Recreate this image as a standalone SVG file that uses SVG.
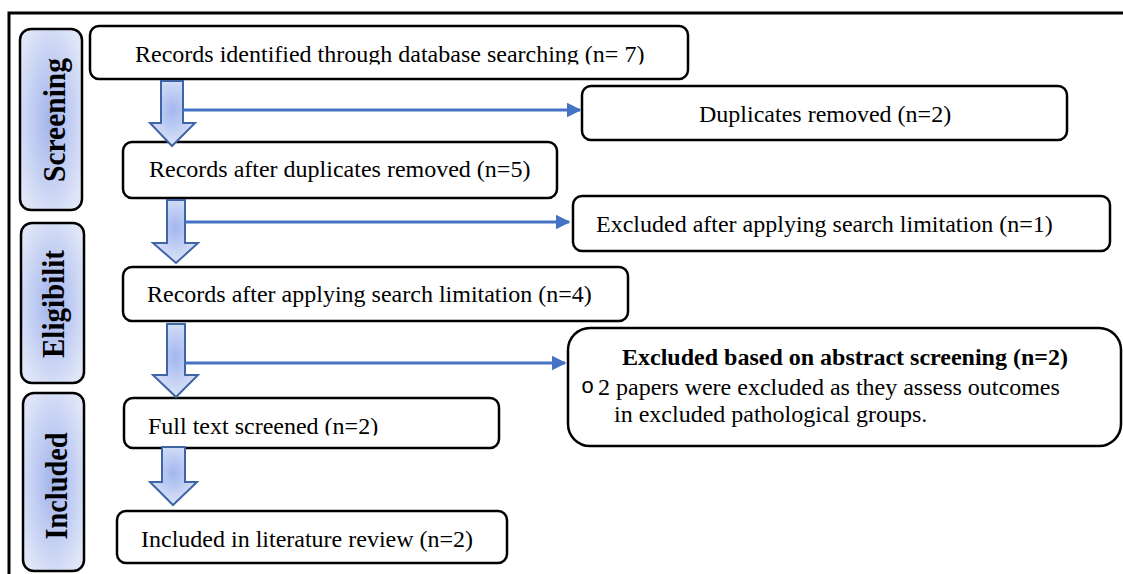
<svg xmlns="http://www.w3.org/2000/svg" width="1123" height="574" viewBox="0 0 1123 574">
  <style>
    .box { fill: #ffffff; stroke: #000000; stroke-width: 2.5; }
    .phase { fill: url(#phaseFill); stroke: #000000; stroke-width: 2.5; }
    .label { font-family: "Liberation Serif", "Times New Roman", serif; font-size: 24px; fill: #000000; }
    .bold { font-weight: bold; }
    .phaseText { font-family: "Liberation Serif", "Times New Roman", serif; font-size: 31px; font-weight: bold; fill: #000000; }
    .flow { fill: url(#arrowFill); stroke: #3f65a6; stroke-width: 2; stroke-linejoin: miter; }
    .link { stroke: #4472c4; stroke-width: 3; fill: none; }
    .bullet { font-family: "Liberation Mono", "Courier New", monospace; font-size: 22px; fill: #000000; }
  </style>
  <defs>
    <radialGradient id="phaseFill" cx="50%" cy="50%" r="60%">
      <stop offset="0" stop-color="#a0b3ec"/>
      <stop offset="1" stop-color="#e0e6f8"/>
    </radialGradient>
    <radialGradient id="arrowFill" cx="50%" cy="45%" r="55%">
      <stop offset="0" stop-color="#a2b6ee"/>
      <stop offset="1" stop-color="#dbe3f8"/>
    </radialGradient>
    <marker id="head" viewBox="0 0 10 10" refX="9" refY="5" markerWidth="5" markerHeight="5" orient="auto" markerUnits="strokeWidth">
      <path d="M0,0 L10,5 L0,10 Z" fill="#4472c4"/>
    </marker>
    <clipPath id="clipTop"><rect x="90" y="26" width="598" height="38.5"/></clipPath>
    <clipPath id="clipFull"><rect x="124" y="398" width="375" height="37.5"/></clipPath>
  </defs>

  <!-- outer frame -->
  <path d="M9,574 V13 H1123" fill="none" stroke="#000000" stroke-width="3"/>

  <!-- phase bands -->
  <g id="phase-screening">
    <rect class="phase" x="20" y="29" width="62" height="181" rx="11"/>
    <text class="phaseText" transform="translate(65,120) rotate(-90)" text-anchor="middle" textLength="124" lengthAdjust="spacingAndGlyphs">Screening</text>
  </g>
  <g id="phase-eligibility">
    <rect class="phase" x="21" y="223" width="63" height="160" rx="11"/>
    <text class="phaseText" transform="translate(64,304) rotate(-90)" text-anchor="middle" textLength="108" lengthAdjust="spacingAndGlyphs">Eligibilit</text>
  </g>
  <g id="phase-included">
    <rect class="phase" x="23" y="393" width="61" height="178" rx="11"/>
    <text class="phaseText" transform="translate(67,486) rotate(-90)" text-anchor="middle" textLength="107" lengthAdjust="spacingAndGlyphs">Included</text>
  </g>

  <!-- main flow boxes -->
  <g id="records-identified">
    <rect class="box" x="90" y="26" width="598" height="53" rx="9"/>
    <text class="label" x="135" y="62" clip-path="url(#clipTop)">Records identified through database searching (n= 7)</text>
  </g>
  <g id="duplicates-removed">
    <rect class="box" x="582" y="86" width="485" height="54" rx="9"/>
    <text class="label" x="699" y="122">Duplicates removed (n=2)</text>
  </g>
  <g id="records-after-duplicates">
    <rect class="box" x="123" y="142" width="434" height="56" rx="9"/>
    <text class="label" x="149" y="177">Records after duplicates removed (n=5)</text>
  </g>
  <g id="excluded-limitation">
    <rect class="box" x="573" y="196" width="537" height="55" rx="9"/>
    <text class="label" x="596" y="232">Excluded after applying search limitation (n=1)</text>
  </g>
  <g id="records-after-limitation">
    <rect class="box" x="123" y="267" width="505" height="54" rx="9"/>
    <text class="label" x="147" y="302">Records after applying search limitation (n=4)</text>
  </g>
  <g id="excluded-abstract">
    <rect class="box" x="568" y="328" width="553" height="118" rx="22"/>
    <text class="label bold" x="845" y="365" text-anchor="middle">Excluded based on abstract screening (n=2)</text>
    <text class="bullet" x="581" y="393">o</text>
    <text class="label" x="598" y="395">2 papers were excluded as they assess outcomes</text>
    <text class="label" x="614" y="422">in excluded pathological groups.</text>
  </g>
  <g id="full-text">
    <rect class="box" x="124" y="398" width="375" height="50" rx="9"/>
    <text class="label" x="148" y="434" clip-path="url(#clipFull)">Full text screened (n=2)</text>
  </g>
  <g id="included-review">
    <rect class="box" x="117" y="511" width="390" height="52" rx="9"/>
    <text class="label" x="141" y="547">Included in literature review (n=2)</text>
  </g>

  <!-- connectors -->
  <g id="connectors">
    <path class="flow" d="M161,81 H183 V123 H195 L172,146 L150,123 H161 Z"/>
    <path class="flow" d="M167,200 H185 V243 H198 L176,263 L153,243 H167 Z"/>
    <path class="flow" d="M167,324 H185 V375 H198 L176,397 L153,375 H167 Z"/>
    <path class="flow" d="M162,447 H185 V482 H197 L173,505 L150,482 H162 Z"/>
    <line class="link" x1="183" y1="110" x2="580" y2="110" marker-end="url(#head)"/>
    <line class="link" x1="185" y1="222" x2="569" y2="222" marker-end="url(#head)"/>
    <line class="link" x1="185" y1="363" x2="565" y2="363" marker-end="url(#head)"/>
  </g>
</svg>
